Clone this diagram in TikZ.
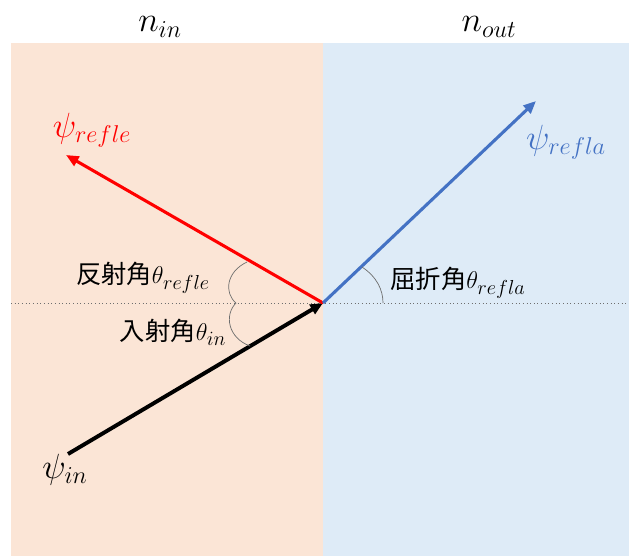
\documentclass[tikz,border=0pt]{standalone}
\usepackage{fontspec}
\newfontfamily\jpfont{Noto Sans CJK JP}
\usepackage{xcolor}
\definecolor{ninfill}{HTML}{FBE5D6}
\definecolor{noutfill}{HTML}{DEEBF7}
\definecolor{reflablue}{HTML}{4472C4}
\definecolor{markgrey}{RGB}{110, 110, 110}
\DeclareMathSizes{18}{18}{13.5}{10}
\DeclareMathSizes{24}{24}{18}{14}
\DeclareMathSizes{26}{26}{19}{15}
\usetikzlibrary{arrows.meta}

\begin{document}
\begin{tikzpicture}[x=0.025cm, y=-0.025cm, >={Triangle[length=9pt, width=7.5pt]},
    every node/.style={inner sep=0pt, font=\fontsize{18}{21}\selectfont},
    medium/.style={font=\fontsize{26}{30}\selectfont},
    wave/.style={font=\fontsize{24}{28}\selectfont},
    anglemark/.style={markgrey, line width=0.5pt}]
    \useasboundingbox (0,0) rectangle (629,556);

    % Media
    \fill [ninfill] (11,43) rectangle (323,556);
    \fill [noutfill] (323,43) rectangle (629,556);
    \node [medium] (nin) at (160,27) {$n_{in}$};
    \node [medium] (nout) at (489,27) {$n_{out}$};

    % Normal plane
    \coordinate (O) at (323,303);
    \draw [dotted, markgrey, line width=0.6pt] (11,303) -- (629,303);

    % Wave vectors
    \coordinate (inStart) at (68,454);
    \coordinate (refleEnd) at (66,155);
    \coordinate (reflaEnd) at (536,101);
    \draw [->, black, line width=2.8pt] (inStart) -- (O);
    \draw [->, red, line width=2.2pt] (O) -- (refleEnd);
    \draw [->, reflablue, line width=2.2pt] (O) -- (reflaEnd);
    \node [wave] (psiin) at (65,470) {$\psi_{in}$};
    \node [wave, red] (psirefle) at (92,130) {$\psi_{refle}$};
    \node [wave, reflablue] (psirefla) at (566,142) {$\psi_{refla}$};

    % Angle marks
    \draw [anglemark] (247,262) .. controls (226,272) and (224,293) .. (236,303);
    \draw [anglemark] (236,303) .. controls (224,315) and (228,338) .. (250,346);
    \draw [anglemark] (362,267) .. controls (377,277) and (383,290) .. (383,303);
    \node (refleangle) at (143,278) {{\jpfont 反射角}$\theta_{refle}$};
    \node (inangle) at (173,332) {{\jpfont 入射角}$\theta_{in}$};
    \node (reflaangle) at (458,283) {{\jpfont 屈折角}$\theta_{refla}$};
\end{tikzpicture}
\end{document}
